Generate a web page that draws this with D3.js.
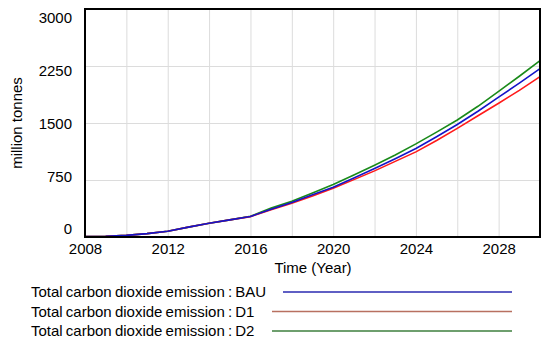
<!DOCTYPE html>
<html>
<head>
<meta charset="utf-8">
<script src="https://cdn.jsdelivr.net/npm/d3@7"></script>
<style>
  body { margin: 0; background: #fff; }
  svg { display: block; font-family: "Liberation Sans", Arial, sans-serif; }
  .grid line { stroke: #dcdcdc; stroke-width: 1; }
  .grid path { display: none; }
  .axis path, .axis line { display: none; }
  .axis text { font-size: 15px; fill: #000; }
</style>
</head>
<body>
<div id="canvas"></div>
<script>
// data
var years = d3.range(2008, 2031);
var bau = [5, 8, 22, 45, 75, 130, 180, 225, 270, 365, 455, 555, 655, 775, 900, 1030, 1165, 1320, 1480, 1655, 1840, 2025, 2215];
var d1  = [5, 8, 22, 45, 75, 130, 180, 225, 268, 360, 445, 540, 640, 755, 870, 995, 1120, 1270, 1430, 1595, 1760, 1930, 2110];
var d2  = [5, 8, 22, 45, 75, 130, 180, 225, 272, 380, 470, 580, 690, 815, 945, 1080, 1225, 1380, 1540, 1720, 1915, 2115, 2320];
var yTicks = [0, 750, 1500, 2250, 3000];
var xTicks = [2008, 2012, 2016, 2020, 2024, 2028];
var seriesNames = ["Total carbon dioxide emission : BAU", "Total carbon dioxide emission : D1", "Total carbon dioxide emission : D2"];

var W = 550, H = 344;
var m = {t: 9, r: 10, b: 107, l: 85};
var w = W - m.l - m.r, h = H - m.t - m.b;

var svg = d3.select('#canvas').append('svg')
    .attr('width', W).attr('height', H);
var plot = svg.append('g')
    .attr('transform', 'translate(' + m.l + ',' + m.t + ')');

var x = d3.scaleLinear().domain([2008, 2030]).range([0, w]);
var y = d3.scaleLinear().domain([0, 3000]).range([h, 0]);
// vensim puts the value labels slightly inside the frame
var yLab = d3.scaleLinear().domain([0, 3000]).range([h - 8, 9]);

// grid
plot.append('g').attr('class', 'grid')
    .attr('transform', 'translate(0,' + h + ')')
    .call(d3.axisBottom(x).tickValues(d3.range(2010, 2030, 2)).tickSize(-h).tickFormat(''));
plot.append('g').attr('class', 'grid')
    .call(d3.axisLeft(y).tickValues([750, 1500, 2250]).tickSize(-w).tickFormat(''));

// lines
var line = d3.line()
    .x(function(d, i) { return x(years[i]); })
    .y(function(d) { return y(d); });

var lineData = [
  {vals: d2, color: '#1a8a1a'},
  {vals: d1, color: '#ff1a1a'},
  {vals: bau, color: '#1414c8'}
];
plot.selectAll('.series').data(lineData).enter()
    .append('path')
    .attr('class', 'series')
    .attr('fill', 'none')
    .attr('stroke', function(d) { return d.color; })
    .attr('stroke-width', 1.6)
    .attr('d', function(d) { return line(d.vals); });

// frame
plot.append('rect')
    .attr('x', 0).attr('y', 0).attr('width', w).attr('height', h)
    .attr('fill', 'none').attr('stroke', '#000').attr('stroke-width', 2);

// axes labels
plot.append('g').attr('class', 'axis')
    .call(d3.axisLeft(yLab).tickValues(yTicks).tickSize(0).tickPadding(13).tickFormat(d3.format('d')));
plot.append('g').attr('class', 'axis')
    .attr('transform', 'translate(0,' + h + ')')
    .call(d3.axisBottom(x).tickValues(xTicks).tickSize(0).tickPadding(6).tickFormat(d3.format('d')));

svg.append('text')
    .attr('x', 313).attr('y', 273)
    .attr('text-anchor', 'middle').attr('font-size', 15)
    .text('Time (Year)');

svg.append('text')
    .attr('transform', 'translate(22,123) rotate(-90)')
    .attr('text-anchor', 'middle').attr('font-size', 15)
    .text('million tonnes');

// legend
var legColors = ['#2a2ab0', '#b87060', '#3e7f3e'];
var leg = svg.selectAll('.leg').data(seriesNames).enter()
    .append('g').attr('class', 'leg')
    .attr('transform', function(d, i) { return 'translate(0,' + (292 + i * 19.5) + ')'; });
leg.append('text')
    .attr('x', 31).attr('y', 5)
    .attr('font-size', 15)
    .attr('word-spacing', -1)
    .text(function(d) { return d; });
leg.append('line')
    .attr('x1', function(d, i) { return i === 0 ? 283 : 272; })
    .attr('x2', 512)
    .attr('stroke', function(d, i) { return legColors[i]; })
    .attr('stroke-width', 1.3);
</script>
</body>
</html>
